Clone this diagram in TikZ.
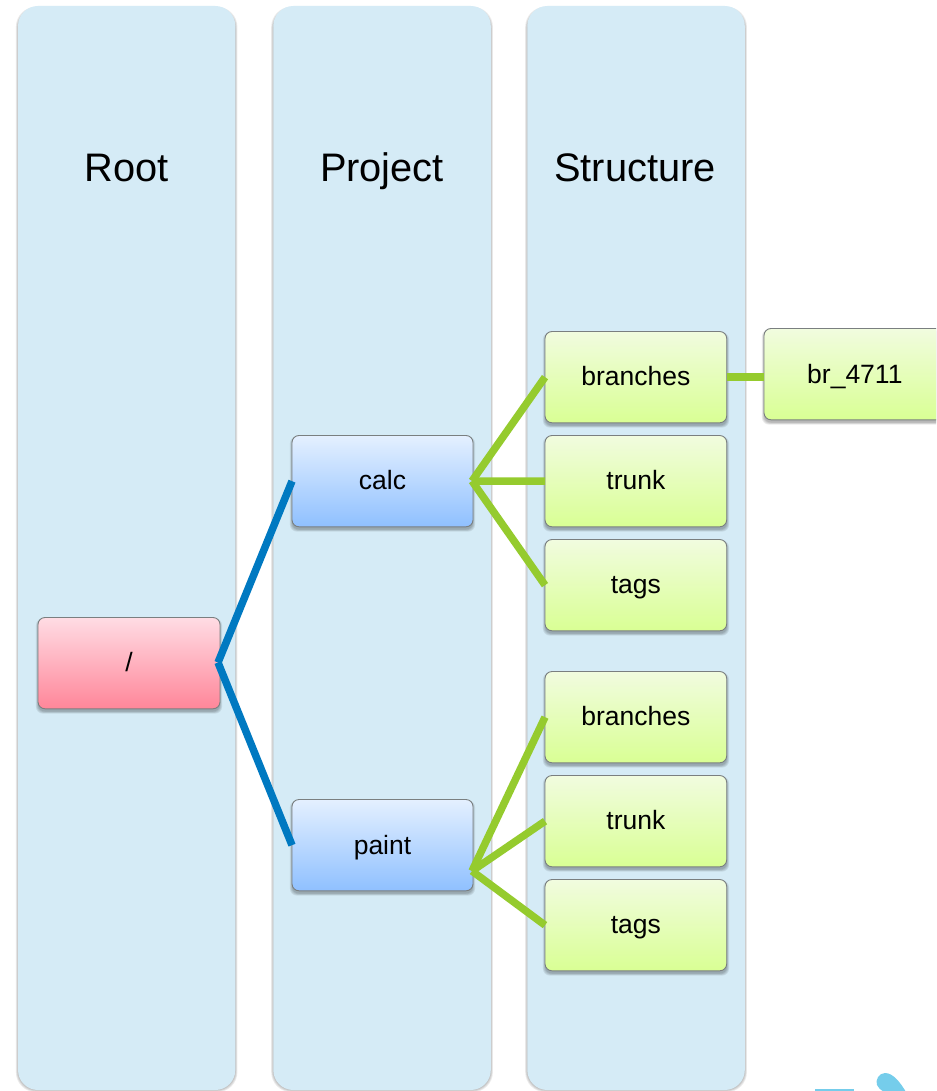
\documentclass[tikz,border=0pt]{standalone}
\usepackage{fontspec}
\setmainfont{Liberation Sans}
\definecolor{colfill}{HTML}{D5EBF6}
\definecolor{linkblue}{HTML}{0079C1}
\definecolor{linkgreen}{HTML}{95CB2E}
\definecolor{logoblue}{HTML}{75CDEB}
\definecolor{boxedge}{HTML}{7A7F80}
\definecolor{roottop}{HTML}{FFDCE4}
\definecolor{rootbot}{HTML}{FF8699}
\definecolor{projtop}{HTML}{E4F0FF}
\definecolor{projbot}{HTML}{8FC0FF}
\definecolor{greentop}{HTML}{F1FCDF}
\definecolor{greenbot}{HTML}{D9FF94}
\tikzset{
  softshadow/.style={fill=black, fill opacity=0.08, draw=none, rounded corners=#1},
  base/.style={draw=boxedge, line width=0.9pt, rounded corners=7pt, minimum width=181pt, minimum height=91.3pt,
    inner sep=0pt, outer sep=0pt, text height=17pt, text depth=0pt,
    font=\fontsize{26.5}{30}\selectfont, text=black, anchor=north west},
  rootbox/.style={base, top color=roottop, bottom color=rootbot},
  projbox/.style={base, top color=projtop, bottom color=projbot},
  structbox/.style={base, top color=greentop, bottom color=greenbot, minimum width=181.7pt},
  lanebox/.style={fill=colfill, draw=none, rounded corners=20pt},
  lanetitle/.style={font=\fontsize{39.8}{46}\selectfont, text=black, anchor=base},
  bluelink/.style={draw=linkblue, line width=7.5pt},
  greenlink/.style={draw=linkgreen, line width=7.5pt},
}
\newcommand{\softshadow}[5]{% x1 y1 x2 y2 radius
  \foreach \d in {0,0.7,1.4,2.1}{
    \fill[softshadow=#5] ({#1-\d},{#2+3-\d}) rectangle ({#3+\d},{#4+3+\d});
  }
}
\begin{document}
\begin{tikzpicture}[x=1pt,y=-1pt]
\useasboundingbox (0,0) rectangle (936,1091);
\clip (0,0) rectangle (936,1091);
\fill[white] (0,0) rectangle (936,1091);
% lanes
\softshadow{18}{6}{235.3}{1087}{20pt}
\softshadow{273.3}{6}{490.8}{1087}{20pt}
\softshadow{527.3}{6}{744.8}{1087}{20pt}
\fill[lanebox] (18,6) rectangle (235.3,1090);
\fill[lanebox] (273.3,6) rectangle (490.8,1090);
\fill[lanebox] (527.3,6) rectangle (744.8,1090);
\node[lanetitle] (troot) at (127,181.5) {Root};
\node[lanetitle] (tproj) at (382,181.5) {Project};
\node[lanetitle] (tstruct) at (635,181.5) {Structure};
% box shadows
\softshadow{38}{617.5}{220}{708.5}{7pt}
\softshadow{292}{435.5}{473}{526.5}{7pt}
\softshadow{292}{799.5}{473}{890.5}{7pt}
\softshadow{545}{331.5}{727}{422.5}{7pt}
\softshadow{545}{435.5}{727}{526.5}{7pt}
\softshadow{545}{539.5}{727}{630.5}{7pt}
\softshadow{545}{671.5}{727}{762.5}{7pt}
\softshadow{545}{775.5}{727}{866.5}{7pt}
\softshadow{545}{879.5}{727}{970.5}{7pt}
\softshadow{764}{328.5}{950}{419.5}{7pt}
% boxes
\node[rootbox, minimum width=182pt] at (38,617.5) (root) {/};
\node[projbox] at (292,435.5) (calc) {calc};
\node[projbox, text height=19pt] at (292,799.5) (paint) {paint};
\node[structbox] at (545,331.5) (cb) {branches};
\node[structbox] at (545,435.5) (ct) {trunk};
\node[structbox] at (545,539.5) (ctg) {tags};
\node[structbox] at (545,671.5) (pb) {branches};
\node[structbox] at (545,775.5) (pt) {trunk};
\node[structbox] at (545,879.5) (ptg) {tags};
\node[structbox, text height=18pt] at (764,328.5) (br) {br\_4711};
% connectors
\coordinate (rootjoin) at (218,662.5);
\coordinate (calcjoin) at (472,481);
\coordinate (paintjoin) at (472,871);
\draw[bluelink] (rootjoin) -- (calc.west);
\draw[bluelink] (rootjoin) -- (paint.west);
\draw[greenlink] (calcjoin) -- (cb.west);
\draw[greenlink] (calcjoin) -- (ct.west);
\draw[greenlink] (calcjoin) -- (ctg.west);
\draw[greenlink] (paintjoin) -- (pb.west);
\draw[greenlink] (paintjoin) -- (pt.west);
\draw[greenlink] (paintjoin) -- (ptg.west);
\draw[greenlink] (cb.east) -- (cb.east -| br.west);
% logo fragment
\fill[logoblue] (815,1089) rectangle (854,1092);
\fill[logoblue] (906,1092) .. controls (900,1082) and (893,1073) .. (885,1073) .. controls (879,1073) and (875,1080) .. (877,1085) .. controls (878,1088) and (881,1090) .. (884,1092) -- cycle;
\end{tikzpicture}
\end{document}
